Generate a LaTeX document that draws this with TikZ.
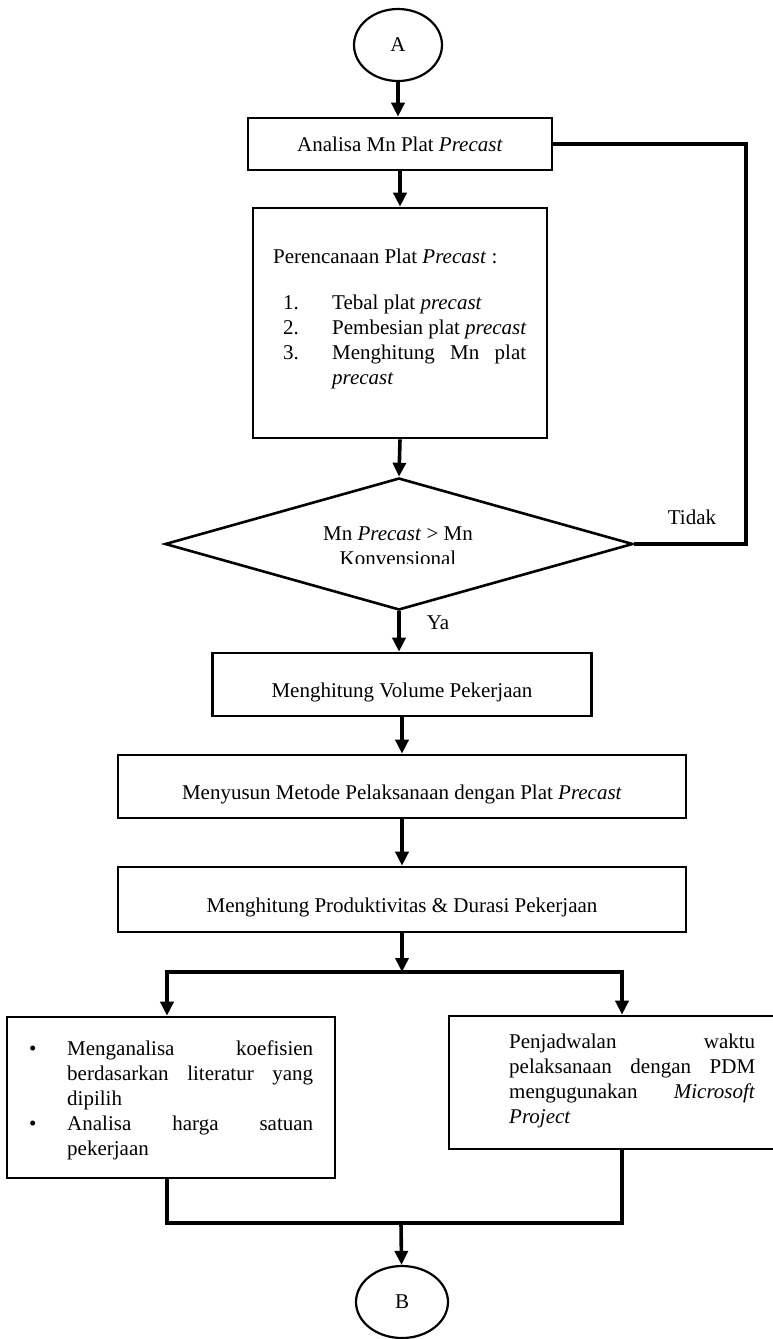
\documentclass[tikz,border=0pt]{standalone}
\usepackage{fontspec}
\setmainfont{Liberation Serif}
\usetikzlibrary{arrows.meta,shapes.geometric}

% a line of text spread to a given width (justified line)
\newcommand{\spreadline}[2]{\makebox[#1][s]{#2}}

\begin{document}
\begin{tikzpicture}[x=1pt,y=-1pt,line join=miter,
  every node/.style={font=\fontsize{21}{25}\selectfont,inner sep=0pt},
  box/.style={draw,line width=2.6pt},
  lowtext/.style={text height=31pt,text depth=4.5pt},
  term/.style={draw,ellipse,line width=2.2pt,minimum width=88pt,minimum height=72pt},
  decision/.style={draw,diamond,line width=2.6pt,minimum width=468pt,minimum height=132pt},
  ftip/.tip={Triangle[width=13pt,length=14pt]},
  flow/.style={line width=3.6pt,-ftip},
  flowboth/.style={line width=3.6pt,ftip-ftip},
  link/.style={line width=3.6pt}]

\useasboundingbox (0,0) rectangle (772,1339);
\fill[white] (0,0) rectangle (772,1339);

% start connector and first step
\node[term] (A) at (398,45) {A};
\node[box,minimum width=304pt,minimum height=52pt] (b1) at (400,144) {Analisa Mn Plat \textit{Precast}};

% planning box
\node[box,minimum width=294pt,minimum height=230pt] (b2) at (400,323) {};
\node[anchor=north west,align=left] (plan) at (273,249) {%
  Perencanaan Plat \textit{Precast} :\\[21pt]
  \hspace*{10pt}\makebox[49pt][l]{1.}Tebal plat \textit{precast}\\
  \hspace*{10pt}\makebox[49pt][l]{2.}Pembesian plat \textit{precast}\\
  \hspace*{10pt}\makebox[49pt][l]{3.}\spreadline{194pt}{Menghitung Mn plat}\\
  \hspace*{59pt}\textit{precast}};

% decision (its text frame cuts off the lower line)
\node[decision] (dec) at (399,544) {};
\begin{scope}
  \clip (280,505) rectangle (520,563);
  \node[anchor=north,align=center] (dectext) at (398,527) {Mn \textit{Precast} > Mn\\Konvensional};
\end{scope}
\node (tidak) at (692,517) {Tidak};
\node (ya) at (438,623) {Ya};

% process steps
\node[box,lowtext,minimum width=379pt,minimum height=63pt] (b3) at (402,684.5) {Menghitung Volume Pekerjaan};
\node[box,lowtext,minimum width=568pt,minimum height=63pt] (b4) at (402,786.5) {Menyusun Metode Pelaksanaan dengan Plat \textit{Precast}};
\node[box,lowtext,minimum width=568pt,minimum height=65pt] (b5) at (402,899.5) {Menghitung Produktivitas \& Durasi Pekerjaan};

% parallel tasks
\node[box,minimum width=328pt,minimum height=161pt] (b6) at (171,1097.5) {};
\node[anchor=north west,align=left] (b6text) at (29,1040.5) {%
  \makebox[38pt][l]{\textbullet}\spreadline{246pt}{Menganalisa koefisien}\\
  \hspace*{38pt}\spreadline{246pt}{berdasarkan literatur yang}\\
  \hspace*{38pt}dipilih\\
  \makebox[38pt][l]{\textbullet}\spreadline{246pt}{Analisa harga satuan}\\
  \hspace*{38pt}pekerjaan};

\node[box,minimum width=332pt,minimum height=133pt] (b7) at (615,1082.5) {};
\node[anchor=north west,align=left] (b7text) at (509,1033.5) {%
  \spreadline{246pt}{Penjadwalan waktu}\\
  \spreadline{246pt}{pelaksanaan dengan PDM}\\
  \spreadline{246pt}{mengugunakan \textit{Microsoft}}\\
  \textit{Project}};

\node[term,minimum width=92pt] (B) at (402,1302) {B};

% routing points
\coordinate (fbT) at (746,144);
\coordinate (fbB) at (746,544);
\coordinate (fork) at (402,972);
\coordinate (forkL) at (167,972);
\coordinate (forkR) at (622,972);
\coordinate (joinL) at (167,1223);
\coordinate (joinR) at (622,1223);
\coordinate (joinM) at (401,1223);

% flow lines
\draw[flow] (A) -- (A |- b1.north);
\draw[flow] (b1) -- (b2);
\draw[flow] (b2.south) -- (dec.north);
\draw[link] (b1.east) -- (fbT) -- (fbB) -- (dec.east);
\draw[flow] (dec.south) -- (dec.south |- b3.north);
\draw[flow] (b3) -- (b4);
\draw[flow] (b4) -- (b5);
\draw[flow] (b5) -- (fork);
\draw[flowboth] (forkL |- b6.north) -- (forkL) -- (forkR) -- (forkR |- b7.north);
\draw[link] (b6.south -| joinL) -- (joinL) -- (joinR) -- (b7.south -| joinR);
\draw[flow] (joinM) -- (B);
\end{tikzpicture}
\end{document}
